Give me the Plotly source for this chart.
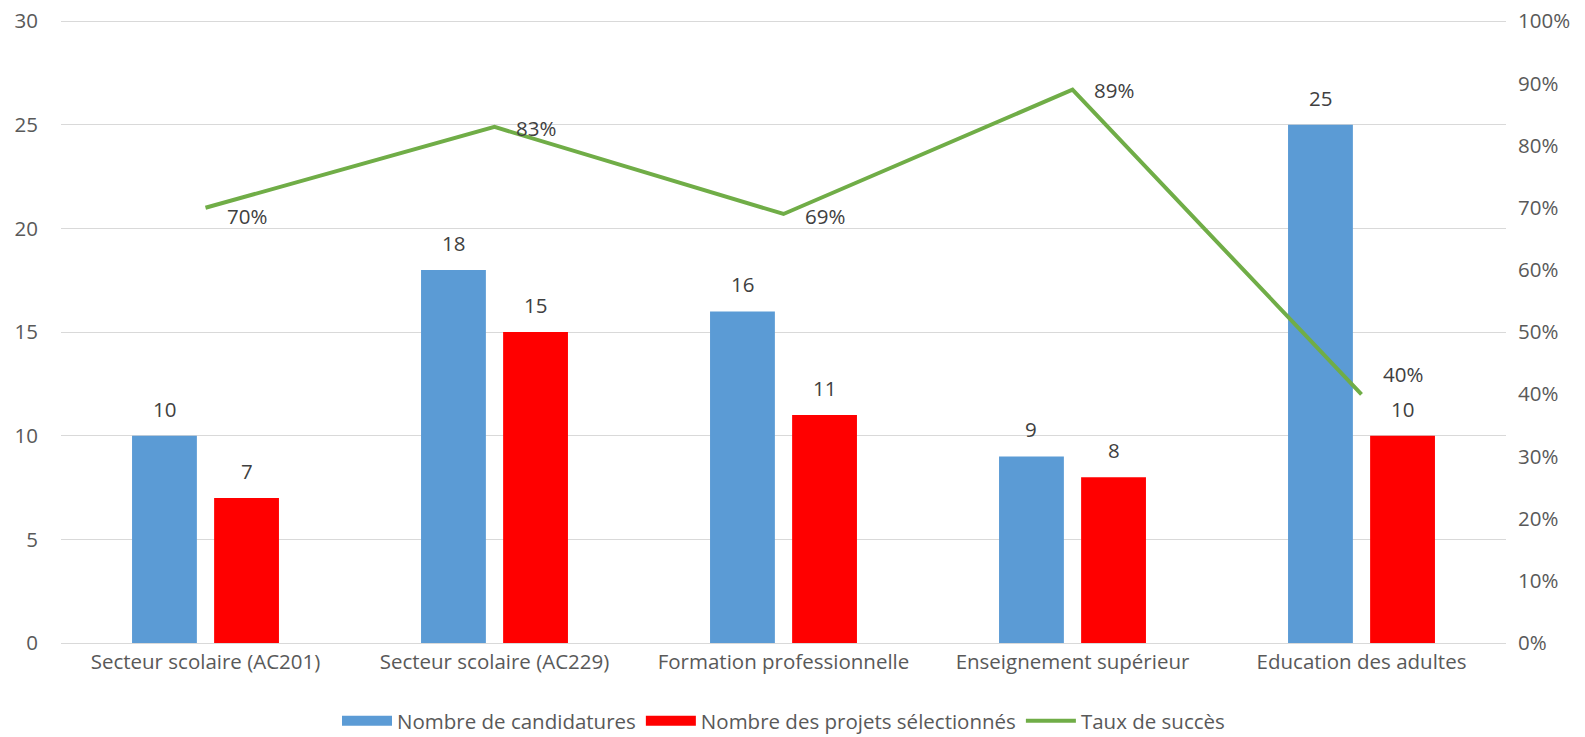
import plotly.graph_objects as go

categories = ["Secteur scolaire (AC201)", "Secteur scolaire (AC229)", "Formation professionnelle",
              "Enseignement supérieur", "Education des adultes"]
candidatures = [10, 18, 16, 9, 25]
selectionnes = [7, 15, 11, 8, 10]
taux = [0.70, 0.83, 0.69, 0.89, 0.40]
taux_labels = ["70%", "83%", "69%", "89%", "40%"]
label_yshift = [-8, -1, -2, 0, 20]

FONT = "Open Sans"
FS = 20.5
TXT = "#404040"
TICK = "#595959"
BLUE = "#5B9BD5"
RED = "#FF0000"
GREEN = "#70AD47"

W, H = 1585, 737
ML, MR, MT, MB = 61, 79, 20, 94
BARGAP = 0.432
BARGROUPGAP = 0.21
YMAX = 30
PAD = 1.002  # tiny headroom so the top gridline is not clipped
plot_w = W - ML - MR
bar_offset = (1 - BARGAP) * plot_w / len(categories) / 4

fig = go.Figure()
fig.add_trace(go.Bar(x=categories, y=candidatures, name="Nombre de candidatures",
                     marker=dict(color=BLUE, line=dict(width=0)), showlegend=False))
fig.add_trace(go.Bar(x=categories, y=selectionnes, name="Nombre des projets sélectionnés",
                     marker=dict(color=RED, line=dict(width=0)), showlegend=False))
fig.add_trace(go.Scatter(x=categories, y=taux, name="Taux de succès", yaxis="y2",
                         mode="lines", line=dict(color=GREEN, width=4), showlegend=False))

# legend entries (wide swatches like the original)
fig.add_trace(go.Scatter(x=[None], y=[None], mode="lines", name="Nombre de candidatures",
                         line=dict(color=BLUE, width=14)))
fig.add_trace(go.Scatter(x=[None], y=[None], mode="lines", name="Nombre des projets sélectionnés",
                         line=dict(color=RED, width=14)))
fig.add_trace(go.Scatter(x=[None], y=[None], mode="lines", name="Taux de succès",
                         line=dict(color=GREEN, width=4)))

for c, v in zip(categories, candidatures):
    fig.add_annotation(x=c, y=v, text=str(v), showarrow=False, yanchor="bottom",
                       xshift=-bar_offset, yshift=11, font=dict(size=FS, color=TXT, family=FONT))
for c, v in zip(categories, selectionnes):
    fig.add_annotation(x=c, y=v, text=str(v), showarrow=False, yanchor="bottom",
                       xshift=bar_offset, yshift=11, font=dict(size=FS, color=TXT, family=FONT))
for c, v, t, ys in zip(categories, taux, taux_labels, label_yshift):
    fig.add_annotation(x=c, y=v, yref="y2", text=t, showarrow=False, xanchor="left",
                       xshift=19, yshift=ys, font=dict(size=FS, color=TXT, family=FONT))

fig.update_layout(
    width=W, height=H,
    margin=dict(l=ML, r=MR, t=MT, b=MB, autoexpand=False),
    paper_bgcolor="white", plot_bgcolor="white",
    barmode="group", bargap=BARGAP, bargroupgap=BARGROUPGAP,
    font=dict(family=FONT, size=FS, color=TICK),
    xaxis=dict(showgrid=False, showline=True, linecolor="#d9d9d9", ticks="", automargin=False,
               tickfont=dict(size=FS, color=TICK)),
    yaxis=dict(range=[0, YMAX * PAD], dtick=5, showgrid=True, gridcolor="#d9d9d9", gridwidth=1,
               zeroline=False, showline=False, ticks="", ticklabelstandoff=22, automargin=False,
               ticklabeloverflow="allow", tickfont=dict(size=FS, color=TICK)),
    yaxis2=dict(range=[0, 1 * PAD], dtick=0.1, tickformat=".0%", overlaying="y", side="right",
                showgrid=False, zeroline=False, showline=False, ticks="", ticklabelstandoff=11,
                automargin=False, ticklabeloverflow="allow", tickfont=dict(size=FS, color=TICK)),
    legend=dict(orientation="h", x=0.5, xanchor="center", y=-0.125, yanchor="middle",
                font=dict(size=FS, color=TICK), traceorder="normal", itemwidth=50),
    showlegend=True,
)
fig.write_html("out.html", config={"displayModeBar": False},
               post_script="document.body.style.margin='0';document.body.style.overflow='hidden';")
